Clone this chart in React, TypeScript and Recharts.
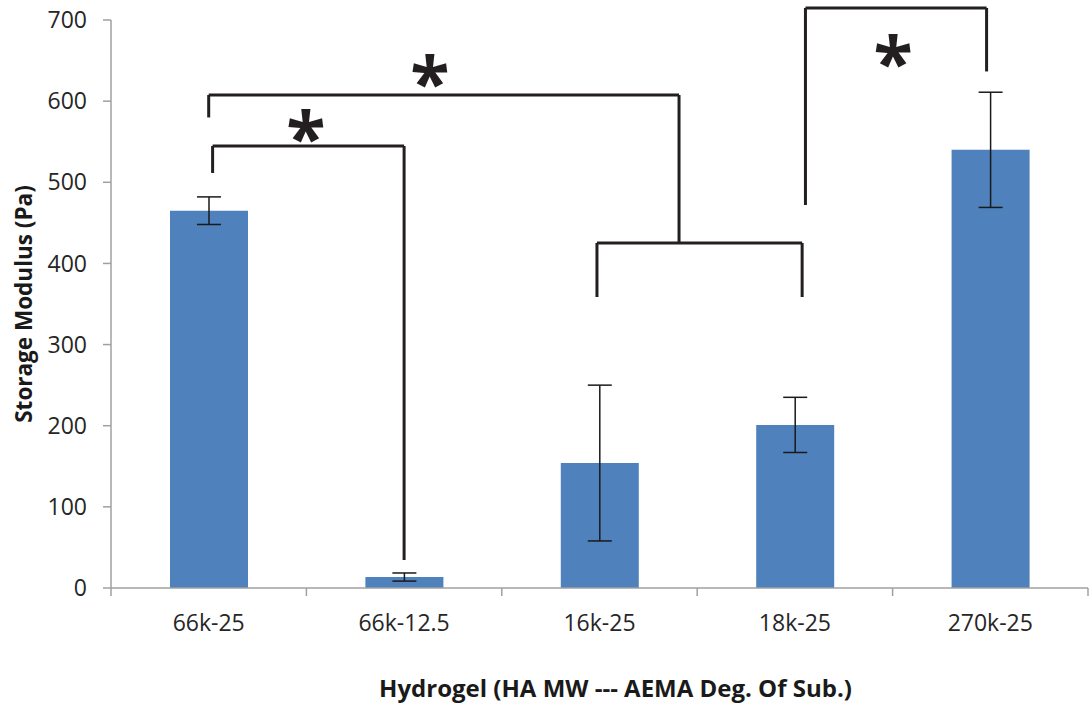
import { BarChart, Bar, XAxis, YAxis, ErrorBar, ReferenceLine, ReferenceDot } from "recharts";

const categories = ["66k-25", "66k-12.5", "16k-25", "18k-25", "270k-25"];
const modulus = [465, 13.5, 154, 201, 540];
const errors = [17, 5, 96, 34, 71];
const yTicks = [0, 100, 200, 300, 400, 500, 600, 700];

// significance brackets, in data units (x = category position, y = Pa)
const brackets = [
    [[0.02, 511.5], [0.02, 544.7], [1.0, 544.7], [1.0, 34.5]],
    [[0, 579.9], [0, 607.6], [2.407, 607.6], [2.407, 426.4]],
    [[1.987, 358.6], [1.987, 425.2], [3.037, 425.2], [3.037, 358.6]],
    [[3.054, 472], [3.054, 714.8], [3.981, 714.8], [3.981, 636.6]],
];
const stars = [[0.497, 573], [1.132, 640.5], [3.503, 666]];

const data = categories.map((name, i) => ({
    pos: i,
    name,
    value: modulus[i],
    err: errors[i],
}));

const xTicks = [-0.5, 0, 0.5, 1, 1.5, 2, 2.5, 3, 3.5, 4, 4.5];
const FONT = "'Open Sans', sans-serif";
const AXIS = "#a0a0a0";

const XTick = ({ x, y, payload }: any) => {
    const v = payload.value;
    if (Number.isInteger(v)) {
        return (
            <text x={x} y={y} dy="0.71em" textAnchor="middle" fill="#262626" fontSize={23} fontFamily={FONT}>
                {categories[v]}
            </text>
        );
    }
    return <line x1={x} x2={x} y1={y - 27} y2={y - 19} stroke={AXIS} strokeWidth={1.5} />;
};

const Star = ({ cx, cy }: any) => (
    <text x={cx} y={cy + 41} textAnchor="middle" fontSize={72} fontWeight={700} fill="#231f20" fontFamily={FONT}>
        *
    </text>
);

export default function App() {
    return (
        <div style={{ position: "absolute", left: 0, top: 0, background: "#fff" }}>
            <BarChart width={1090} height={709} data={data} margin={{ top: 20, right: 2, left: 0, bottom: 0 }}>
                <XAxis
                    dataKey="pos"
                    type="number"
                    domain={[-0.5, 4.5]}
                    ticks={xTicks}
                    interval={0}
                    height={121}
                    tickLine={false}
                    tickSize={8}
                    tickMargin={19}
                    tick={<XTick />}
                    axisLine={{ stroke: AXIS, strokeWidth: 1.5 }}
                    label={{
                        value: "Hydrogel (HA MW --- AEMA Deg. Of Sub.)",
                        position: "insideBottom",
                        offset: 12,
                        dx: 16,
                        fill: "#1a1a1a",
                        fontSize: 24,
                        fontWeight: 700,
                        fontFamily: FONT,
                    }}
                />
                <YAxis
                    type="number"
                    domain={[0, 700]}
                    ticks={yTicks}
                    width={111}
                    tickSize={8}
                    tickMargin={16}
                    tick={{ fill: "#262626", fontSize: 23, fontFamily: FONT }}
                    tickLine={{ stroke: AXIS, strokeWidth: 1.5 }}
                    axisLine={{ stroke: AXIS, strokeWidth: 1.5 }}
                    label={{
                        value: "Storage Modulus (Pa)",
                        angle: -90,
                        position: "insideLeft",
                        offset: 24,
                        style: { textAnchor: "middle" },
                        fill: "#1a1a1a",
                        fontSize: 22.5,
                        fontWeight: 700,
                        fontFamily: FONT,
                    }}
                />
                <Bar dataKey="value" fill="#4f81bd" barSize={78} isAnimationActive={false}>
                    <ErrorBar dataKey="err" width={12} stroke="#1a1a1a" strokeWidth={1.5} direction="y" />
                </Bar>
                {brackets.flatMap((pts, b) =>
                    pts.slice(1).map((p, i) => (
                        <ReferenceLine
                            key={`br-${b}-${i}`}
                            segment={[
                                { x: pts[i][0], y: pts[i][1] },
                                { x: p[0], y: p[1] },
                            ]}
                            stroke="#231f20"
                            strokeWidth={3}
                            ifOverflow="visible"
                        />
                    ))
                )}
                {stars.map((s, i) => (
                    <ReferenceDot key={`star-${i}`} x={s[0]} y={s[1]} r={0} ifOverflow="visible" shape={<Star />} />
                ))}
            </BarChart>
        </div>
    );
}
